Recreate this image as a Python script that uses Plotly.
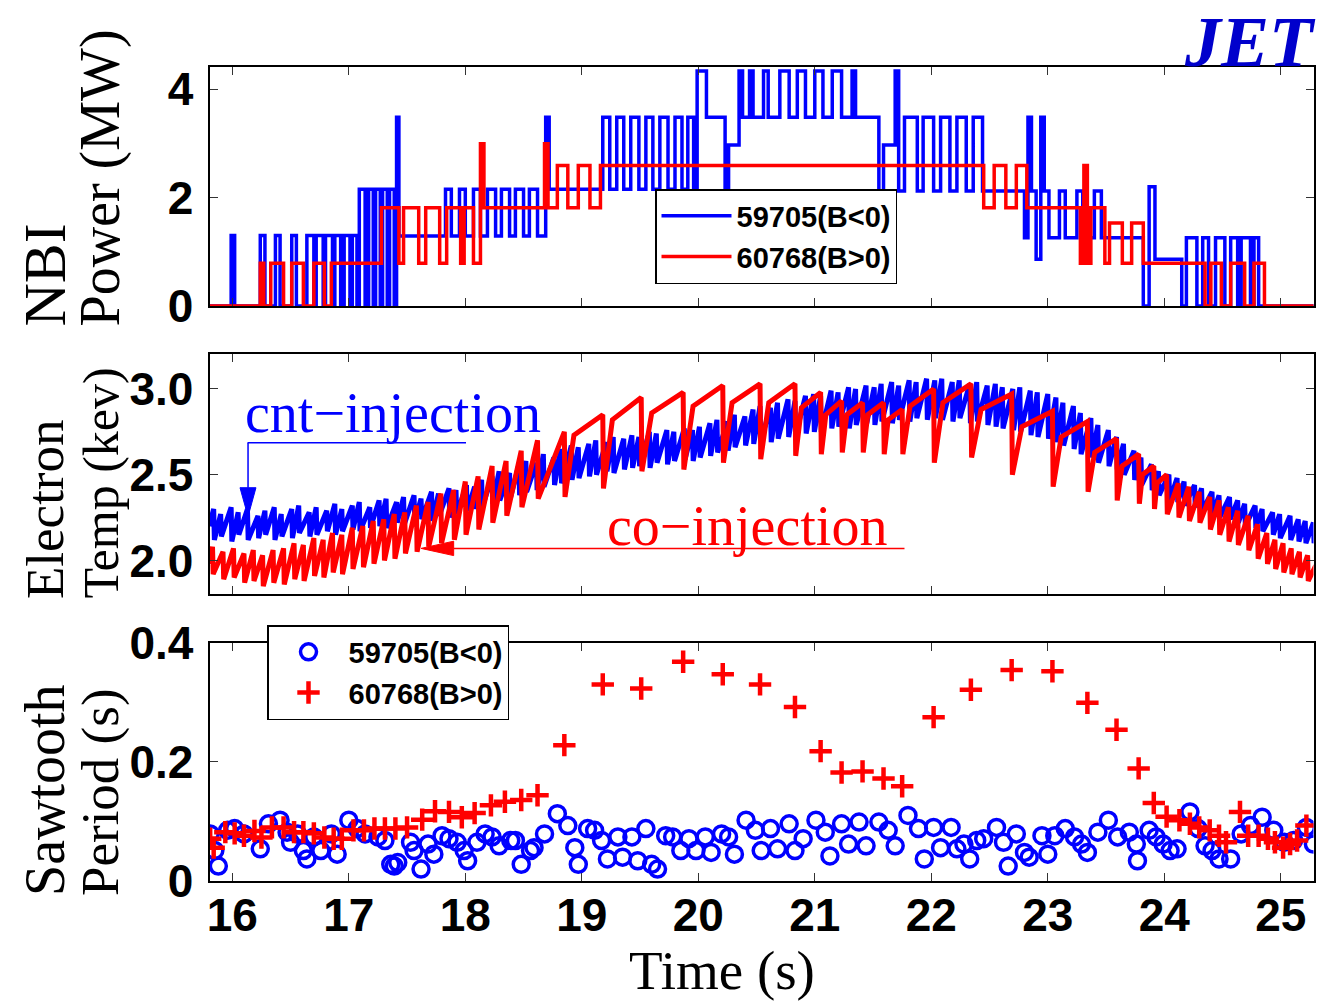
import plotly.graph_objects as go

# ---------------- DATA ----------------
x_ticks = [16, 17, 18, 19, 20, 21, 22, 23, 24, 25]

# NBI power (MW): change points of the step waveforms (time s, level MW)
nbi_blue_t = [15.80, 15.99, 16.02, 16.24, 16.28, 16.37, 16.41, 16.51, 16.55, 16.64,
              16.70, 16.72, 16.78, 16.80, 16.86, 16.88, 16.93, 16.96, 17.01, 17.03,
              17.07, 17.09, 17.14, 17.17, 17.21, 17.23, 17.27, 17.29, 17.33, 17.35,
              17.39, 17.41, 17.43, 17.83, 17.88, 17.95, 18.00, 18.07, 18.13, 18.19,
              18.26, 18.31, 18.38, 18.43, 18.50, 18.55, 18.62, 18.69, 18.72, 19.18,
              19.24, 19.30, 19.36, 19.42, 19.49, 19.55, 19.61, 19.67, 19.74, 19.80,
              19.86, 19.91, 19.96, 19.99, 20.07, 20.23, 20.26, 20.35, 20.38, 20.44,
              20.47, 20.56, 20.60, 20.70, 20.78, 20.85, 20.92, 21.00, 21.07, 21.15,
              21.23, 21.32, 21.35, 21.55, 21.59, 21.69, 21.72, 21.77, 21.88, 21.93,
              22.02, 22.08, 22.16, 22.22, 22.30, 22.36, 22.44, 22.80, 22.83, 22.86,
              22.90, 22.94, 22.97, 23.01, 23.10, 23.15, 23.25, 23.30, 23.40, 23.46,
              23.82, 23.87, 23.92, 24.15, 24.19, 24.28, 24.33, 24.38, 24.44, 24.52,
              24.57, 24.63, 24.66, 24.74, 24.77, 24.81, 25.30]
nbi_blue_p = [0, 1.30, 0, 1.30, 0, 1.30, 0, 1.30, 0, 1.30,
              0, 1.30, 0, 1.30, 0, 1.30, 0, 1.30, 0, 1.30,
              0, 2.15, 0, 2.15, 0, 2.15, 0, 2.15, 0, 2.15,
              0, 3.48, 1.29, 2.15, 1.29, 2.15, 1.29, 2.15, 1.29, 2.15,
              1.29, 2.15, 1.29, 2.15, 1.29, 2.15, 1.29, 3.48, 2.15, 3.48,
              2.15, 3.48, 2.15, 3.48, 2.15, 3.48, 2.15, 3.48, 2.15, 3.48,
              2.15, 3.48, 2.15, 4.33, 3.48, 2.15, 2.97, 4.33, 3.48, 4.33,
              3.48, 4.33, 3.48, 4.33, 3.48, 4.33, 3.48, 4.33, 3.48, 4.33,
              3.48, 4.33, 3.48, 2.12, 2.97, 4.33, 2.12, 3.48, 2.12, 3.48,
              2.12, 3.48, 2.12, 3.48, 2.12, 3.48, 2.12, 1.26, 3.48, 2.12,
              0.86, 3.48, 2.12, 1.26, 2.12, 1.26, 2.12, 1.26, 2.12, 1.26,
              0, 2.20, 0.86, 0, 1.26, 0, 1.26, 0, 1.26, 0,
              1.26, 0, 1.26, 0, 1.26, 0, 0]

nbi_red_t = [15.80, 16.24, 16.27, 16.33, 16.44, 16.51, 16.61, 16.70, 16.79, 16.85,
             17.28, 17.43, 17.47, 17.60, 17.66, 17.78, 17.84, 17.96, 17.99, 18.07,
             18.13, 18.16, 18.68, 18.71, 18.79, 18.88, 18.97, 19.07, 19.16, 22.45,
             22.54, 22.64, 22.73, 22.82, 23.28, 23.31, 23.34, 23.37, 23.49, 23.53,
             23.64, 23.72, 23.82, 24.35, 24.40, 24.49, 24.57, 24.69, 24.77, 24.86,
             25.30]
nbi_red_p = [0, 0.79, 0, 0.79, 0, 0.79, 0, 0.79, 0, 0.79,
             1.81, 0.79, 1.81, 0.79, 1.81, 0.79, 1.81, 0.79, 1.81, 0.79,
             2.99, 1.81, 2.99, 1.81, 2.59, 1.81, 2.59, 1.81, 2.59, 1.81,
             2.59, 1.81, 2.59, 1.81, 0.79, 2.59, 0.79, 1.81, 0.79, 1.53,
             0.79, 1.53, 0.79, 0, 0.79, 0, 0.79, 0, 0.79, 0,
             0]

# Electron temperature (keV): sawtooth crash times with pre-crash (peak) and post-crash (trough) values
te_blue_crash_t = [15.84, 15.90, 15.99, 16.05, 16.13, 16.22, 16.28, 16.36, 16.42, 16.51, 16.57, 16.66, 16.72, 16.81, 16.88, 16.94,
                   17.03, 17.09, 17.18, 17.26, 17.32, 17.41, 17.47, 17.56, 17.62, 17.71, 17.77, 17.86, 17.92,
                   18.01, 18.08, 18.14, 18.23, 18.29, 18.38, 18.46, 18.52, 18.61, 18.67, 18.76, 18.82, 18.91, 18.97,
                   19.06, 19.12, 19.21, 19.27, 19.36, 19.43, 19.49, 19.58, 19.64, 19.73, 19.79, 19.88, 19.95,
                   20.01, 20.10, 20.16, 20.25, 20.31, 20.40, 20.47, 20.53, 20.62, 20.68, 20.77, 20.83, 20.92, 20.99,
                   21.05, 21.14, 21.20, 21.29, 21.35, 21.44, 21.51, 21.57, 21.66, 21.72, 21.81, 21.87, 21.96,
                   22.03, 22.09, 22.18, 22.24, 22.33, 22.39, 22.48, 22.55, 22.61, 22.70, 22.76, 22.85, 22.91,
                   23.00, 23.07, 23.13, 23.22, 23.28, 23.37, 23.43, 23.52, 23.59, 23.65, 23.74, 23.80, 23.89, 23.95,
                   24.04, 24.11, 24.17, 24.26, 24.32, 24.41, 24.47, 24.56, 24.63, 24.69, 24.78, 24.84, 24.93, 24.99,
                   25.08, 25.15, 25.21, 25.28]
te_blue_peak = [2.30, 2.27, 2.31, 2.28, 2.30, 2.26, 2.29, 2.31, 2.27, 2.30, 2.32, 2.28, 2.31, 2.29, 2.33, 2.30,
                2.32, 2.34, 2.31, 2.35, 2.36, 2.34, 2.37, 2.38, 2.36, 2.40, 2.39, 2.42, 2.41,
                2.44, 2.43, 2.47, 2.49, 2.52, 2.51, 2.56, 2.58, 2.57, 2.62, 2.60, 2.65, 2.67, 2.66,
                2.68, 2.70, 2.69, 2.72, 2.71, 2.73, 2.72, 2.75, 2.74, 2.76, 2.75, 2.77, 2.76,
                2.78, 2.80, 2.82, 2.81, 2.85, 2.84, 2.88, 2.90, 2.89, 2.92, 2.94, 2.93, 2.96, 2.97,
                2.96, 2.99, 2.98, 3.01, 3.00, 3.02, 3.01, 3.03, 3.04, 3.02, 3.05, 3.04, 3.06,
                3.05, 3.06, 3.04, 3.05, 3.03, 3.04, 3.02, 3.03, 3.01, 3.00, 3.01, 2.99, 2.98,
                2.97, 2.95, 2.92, 2.90, 2.86, 2.83, 2.79, 2.76, 2.72, 2.68, 2.64, 2.60, 2.56, 2.52,
                2.50, 2.48, 2.46, 2.44, 2.42, 2.40, 2.38, 2.37, 2.35, 2.33, 2.32, 2.30, 2.28, 2.27,
                2.26, 2.24, 2.23, 2.22]
te_blue_trough = [2.12, 2.14, 2.11, 2.15, 2.12, 2.13, 2.15, 2.12, 2.14, 2.13, 2.16, 2.14, 2.15, 2.17, 2.15, 2.17,
                  2.18, 2.17, 2.19, 2.20, 2.19, 2.22, 2.21, 2.23, 2.24, 2.23, 2.26, 2.25, 2.27,
                  2.29, 2.30, 2.31, 2.33, 2.35, 2.36, 2.38, 2.40, 2.41, 2.43, 2.44, 2.45, 2.47, 2.48,
                  2.49, 2.50, 2.52, 2.51, 2.53, 2.54, 2.55, 2.54, 2.57, 2.56, 2.58, 2.59, 2.58,
                  2.60, 2.61, 2.63, 2.64, 2.66, 2.67, 2.68, 2.70, 2.69, 2.71, 2.72, 2.73, 2.74, 2.75,
                  2.75, 2.77, 2.78, 2.77, 2.79, 2.80, 2.79, 2.81, 2.80, 2.82, 2.81, 2.83, 2.82,
                  2.83, 2.82, 2.81, 2.83, 2.80, 2.81, 2.79, 2.78, 2.77, 2.76, 2.75, 2.73, 2.72,
                  2.71, 2.69, 2.67, 2.65, 2.62, 2.60, 2.57, 2.55, 2.53, 2.50, 2.47, 2.44, 2.41, 2.38,
                  2.35, 2.34, 2.32, 2.31, 2.29, 2.27, 2.25, 2.24, 2.22, 2.20, 2.19, 2.17, 2.15, 2.13,
                  2.12, 2.11, 2.10, 2.10]
te_blue_start, te_blue_end = 2.20, 2.20

te_red_crash_t = [15.83, 15.92, 16.01, 16.10, 16.18, 16.26, 16.35, 16.44, 16.53, 16.61,
                  16.70, 16.78, 16.86, 16.94, 17.03, 17.12, 17.21, 17.30, 17.39, 17.48,
                  17.58, 17.68, 17.79, 17.90, 18.00, 18.11, 18.23, 18.35, 18.48, 18.62,
                  18.85, 19.18, 19.51, 19.87, 20.21, 20.53, 20.83, 21.05, 21.23, 21.41,
                  21.59, 21.75, 22.02, 22.34, 22.69, 23.04, 23.34, 23.59, 23.78, 23.91,
                  24.02, 24.12, 24.21, 24.30, 24.39, 24.47, 24.55, 24.63, 24.72, 24.80,
                  24.88, 24.95, 25.02, 25.09, 25.16, 25.23]
te_red_peak = [2.08, 2.05, 2.07, 2.04, 2.06, 2.03, 2.06, 2.07, 2.10, 2.09,
               2.13, 2.12, 2.16, 2.15, 2.19, 2.20, 2.23, 2.24, 2.27, 2.28,
               2.32, 2.34, 2.39, 2.41, 2.46, 2.49, 2.55, 2.58, 2.64, 2.70,
               2.75, 2.85, 2.95, 2.98, 3.02, 3.03, 3.03, 2.98, 2.93, 2.92,
               2.92, 2.88, 3.00, 3.03, 2.97, 2.87, 2.81, 2.71, 2.62, 2.55,
               2.50, 2.45, 2.43, 2.40, 2.37, 2.35, 2.31, 2.29, 2.26, 2.21,
               2.16, 2.12, 2.10, 2.07, 2.05, 2.03]
te_red_trough = [1.92, 1.89, 1.90, 1.87, 1.88, 1.85, 1.87, 1.86, 1.89, 1.88,
                 1.91, 1.90, 1.93, 1.92, 1.95, 1.96, 1.98, 2.00, 2.01, 2.04,
                 2.05, 2.08, 2.10, 2.12, 2.15, 2.18, 2.22, 2.26, 2.31, 2.36,
                 2.37, 2.42, 2.52, 2.53, 2.57, 2.59, 2.61, 2.62, 2.63, 2.63,
                 2.62, 2.62, 2.57, 2.60, 2.50, 2.43, 2.40, 2.35, 2.33, 2.30,
                 2.27, 2.25, 2.23, 2.22, 2.18, 2.15, 2.11, 2.09, 2.06, 2.01,
                 1.98, 1.95, 1.93, 1.92, 1.90, 1.88]
# level reached shortly after each crash during the long co-injection sawteeth (None = plain ramp)
te_red_knee = [None] * 30 + [2.73, 2.82, 2.86, 2.90, 2.92, 2.92, 2.89, 2.85, 2.85, 2.85,
                             2.82, 2.90, 2.92, 2.88, 2.78, 2.72, 2.63, 2.55, 2.50, 2.45] + [None] * 16
te_red_start, te_red_end = 1.98, 1.97

# Sawtooth period (s) vs time
st_blue_t = [15.81, 15.85, 15.88, 15.96, 16.02, 16.10, 16.24, 16.31, 16.41, 16.47,
             16.50, 16.56, 16.61, 16.64, 16.70, 16.76, 16.85, 16.90, 17.00, 17.07,
             17.14, 17.25, 17.31, 17.36, 17.39, 17.42, 17.53, 17.56, 17.62, 17.68,
             17.73, 17.80, 17.86, 17.93, 17.99, 18.02, 18.10, 18.17, 18.23, 18.29,
             18.39, 18.43, 18.48, 18.56, 18.59, 18.68, 18.79, 18.88, 18.94, 18.97,
             19.05, 19.11, 19.17, 19.22, 19.31, 19.35, 19.43, 19.48, 19.55, 19.60,
             19.65, 19.72, 19.78, 19.85, 19.92, 19.98, 20.06, 20.11, 20.20, 20.26,
             20.31, 20.41, 20.49, 20.54, 20.62, 20.68, 20.78, 20.83, 20.90, 21.01,
             21.09, 21.13, 21.23, 21.29, 21.38, 21.44, 21.55, 21.63, 21.69, 21.80,
             21.89, 21.94, 22.02, 22.08, 22.17, 22.22, 22.28, 22.33, 22.39, 22.45,
             22.56, 22.62, 22.66, 22.73, 22.80, 22.84, 22.95, 23.00, 23.06, 23.15,
             23.23, 23.29, 23.34, 23.43, 23.52, 23.60, 23.70, 23.76, 23.77, 23.87,
             23.93, 23.99, 24.05, 24.11, 24.22, 24.29, 24.35, 24.41, 24.47, 24.57,
             24.66, 24.74, 24.84, 24.94, 25.03, 25.11, 25.22, 25.28]
st_blue_p = [0.079, 0.051, 0.025, 0.085, 0.088, 0.079, 0.054, 0.096, 0.102, 0.082,
             0.065, 0.079, 0.051, 0.037, 0.074, 0.051, 0.079, 0.045, 0.102, 0.088,
             0.079, 0.074, 0.068, 0.028, 0.025, 0.031, 0.065, 0.051, 0.020, 0.062,
             0.045, 0.076, 0.071, 0.065, 0.051, 0.034, 0.065, 0.079, 0.074, 0.059,
             0.068, 0.068, 0.028, 0.051, 0.056, 0.079, 0.113, 0.093, 0.056, 0.028,
             0.088, 0.085, 0.068, 0.037, 0.074, 0.040, 0.074, 0.034, 0.088, 0.028,
             0.020, 0.076, 0.074, 0.051, 0.071, 0.051, 0.074, 0.048, 0.079, 0.074,
             0.045, 0.102, 0.085, 0.051, 0.088, 0.054, 0.096, 0.051, 0.071, 0.102,
             0.082, 0.042, 0.096, 0.062, 0.099, 0.059, 0.099, 0.085, 0.059, 0.110,
             0.088, 0.037, 0.090, 0.056, 0.090, 0.054, 0.062, 0.037, 0.068, 0.071,
             0.090, 0.065, 0.025, 0.079, 0.048, 0.040, 0.076, 0.045, 0.076, 0.088,
             0.074, 0.062, 0.048, 0.082, 0.102, 0.074, 0.082, 0.062, 0.034, 0.085,
             0.074, 0.062, 0.051, 0.054, 0.116, 0.088, 0.059, 0.051, 0.037, 0.037,
             0.079, 0.093, 0.107, 0.085, 0.065, 0.068, 0.090, 0.062]
st_red_t = [15.81, 15.84, 15.94, 16.02, 16.10, 16.19, 16.25, 16.34, 16.44, 16.53,
            16.61, 16.70, 16.79, 16.87, 16.94, 17.04, 17.13, 17.22, 17.31, 17.40,
            17.50, 17.63, 17.74, 17.86, 17.97, 18.08, 18.22, 18.34, 18.48, 18.62,
            18.85, 19.18, 19.51, 19.87, 20.21, 20.53, 20.83, 21.05, 21.23, 21.41,
            21.59, 21.75, 22.02, 22.34, 22.69, 23.04, 23.34, 23.59, 23.78, 23.91,
            24.02, 24.13, 24.22, 24.30, 24.39, 24.47, 24.53, 24.65, 24.72, 24.81,
            24.89, 24.95, 25.02, 25.08, 25.14, 25.22]
st_red_p = [0.071, 0.056, 0.082, 0.080, 0.076, 0.084, 0.073, 0.090, 0.090, 0.082,
            0.082, 0.080, 0.073, 0.071, 0.071, 0.085, 0.085, 0.088, 0.088, 0.088,
            0.090, 0.103, 0.117, 0.116, 0.107, 0.114, 0.127, 0.133, 0.136, 0.144,
            0.228, 0.330, 0.323, 0.368, 0.347, 0.330, 0.292, 0.218, 0.182, 0.184,
            0.172, 0.159, 0.275, 0.321, 0.354, 0.352, 0.299, 0.254, 0.189, 0.131,
            0.108, 0.102, 0.096, 0.090, 0.085, 0.076, 0.065, 0.116, 0.076, 0.076,
            0.071, 0.065, 0.056, 0.062, 0.068, 0.093]

series_names = ['59705(B&lt;0)', '60768(B&gt;0)']

# ---------------- FIGURE ----------------
W, H = 1326, 1004
T0, T1 = 15.80, 25.30


def pxx(x):
    return x / W


def pxy(y):
    return 1 - y / H


def sawtooth_path(crash_t, peak, trough, start_v, end_v, knee=None):
    xs, ys = [T0], [start_v]
    for i, tc in enumerate(crash_t):
        xs += [tc, tc + 0.006]
        ys += [peak[i], trough[i]]
        if knee is not None and knee[i] is not None:
            nxt = crash_t[i + 1] if i + 1 < len(crash_t) else T1
            xs.append(tc + 0.25 * (nxt - tc))
            ys.append(knee[i])
    xs.append(T1)
    ys.append(end_v)
    return xs, ys


BLUE = '#0000ff'
RED = '#ff0000'

fig = go.Figure()

# top: NBI power
fig.add_trace(go.Scatter(x=nbi_blue_t, y=nbi_blue_p, mode='lines', name=series_names[0],
                         line=dict(color=BLUE, width=3.5, shape='hv'),
                         xaxis='x', yaxis='y', legend='legend'))
fig.add_trace(go.Scatter(x=nbi_red_t, y=nbi_red_p, mode='lines', name=series_names[1],
                         line=dict(color=RED, width=3.5, shape='hv'),
                         xaxis='x', yaxis='y', legend='legend'))

# middle: electron temperature
bx, by = sawtooth_path(te_blue_crash_t, te_blue_peak, te_blue_trough, te_blue_start, te_blue_end)
rx, ry = sawtooth_path(te_red_crash_t, te_red_peak, te_red_trough, te_red_start, te_red_end, te_red_knee)
fig.add_trace(go.Scatter(x=bx, y=by, mode='lines', line=dict(color=BLUE, width=5),
                         showlegend=False, xaxis='x2', yaxis='y2'))
fig.add_trace(go.Scatter(x=rx, y=ry, mode='lines', line=dict(color=RED, width=5),
                         showlegend=False, xaxis='x2', yaxis='y2'))

# bottom: sawtooth period
fig.add_trace(go.Scatter(x=st_blue_t, y=st_blue_p, mode='markers', name=series_names[0],
                         marker=dict(symbol='circle-open', size=16, color=BLUE,
                                     line=dict(color=BLUE, width=3.5)),
                         xaxis='x3', yaxis='y3', legend='legend2'))
fig.add_trace(go.Scatter(x=st_red_t, y=st_red_p, mode='markers', name=series_names[1],
                         marker=dict(symbol='cross-thin-open', size=16, color=RED,
                                     line=dict(color=RED, width=4.5)),
                         xaxis='x3', yaxis='y3', legend='legend2'))

tickfont = dict(family='Liberation Sans, Arial, sans-serif', size=46, color='black', weight='bold')
xdom = [pxx(209.6), pxx(1313.5)]
xcommon = dict(range=[15.805, 25.281], domain=xdom, showline=True, linecolor='black', linewidth=2,
               mirror='ticks', ticks='inside', ticklen=8, tickwidth=1, tickcolor='#333',
               tickvals=x_ticks, ticktext=[str(v) for v in x_ticks], showgrid=False,
               zeroline=False, automargin=False, tickfont=tickfont)
ycommon = dict(showline=True, linecolor='black', linewidth=2, mirror='ticks', ticks='inside',
               ticklen=8, tickwidth=1, tickcolor='#333', showgrid=False, zeroline=False,
               automargin=False, tickfont=tickfont, ticklabelstandoff=5)

legfont = dict(family='Liberation Sans, Arial, sans-serif', size=29, color='black', weight='bold')
fig.update_layout(
    width=W, height=H, margin=dict(l=0, r=0, t=0, b=0),
    paper_bgcolor='white', plot_bgcolor='white',
    xaxis=dict(xcommon, anchor='y', showticklabels=False),
    xaxis2=dict(xcommon, anchor='y2', showticklabels=False),
    xaxis3=dict(xcommon, anchor='y3', showticklabels=True, ticklabelstandoff=-7),
    yaxis=dict(ycommon, anchor='x', domain=[pxy(306), pxy(67.3)], range=[0, 4.4],
               tickvals=[0, 2, 4], ticktext=['0', '2', '4']),
    yaxis2=dict(ycommon, anchor='x2', domain=[pxy(594), pxy(354)], range=[1.804, 3.204],
                tickvals=[2.0, 2.5, 3.0], ticktext=['2.0', '2.5', '3.0']),
    yaxis3=dict(ycommon, anchor='x3', domain=[pxy(881), pxy(642.7)], range=[0, 0.4],
                tickvals=[0, 0.2, 0.4], ticktext=['0', '0.2', '0.4']),
    legend=dict(x=pxx(655), y=pxy(189), xanchor='left', yanchor='top', bgcolor='white',
                bordercolor='black', borderwidth=1.5, itemwidth=70, tracegroupgap=0,
                font=legfont),
    legend2=dict(x=pxx(267), y=pxy(625), xanchor='left', yanchor='top', bgcolor='white',
                 bordercolor='black', borderwidth=1.5, itemwidth=70, tracegroupgap=0,
                 font=legfont),
)

serif = 'Liberation Serif, Times New Roman, serif'
ann = []
# y axis labels (two lines each, rotated, bottom aligned)
for text, xc, yb, fs in [('NBI', 45, 329, 60), ('Power (MW)', 100, 329, 56),
                         ('Electron', 45, 601, 53), ('Temp (kev)', 100, 601, 50),
                         ('Sawtooth', 45, 898, 56), ('Period (s)', 100, 898, 53)]:
    ann.append(dict(text=text, x=pxx(xc), y=pxy(yb), xref='paper', yref='paper',
                    xanchor='center', yanchor='bottom', textangle=-90, showarrow=False,
                    font=dict(family=serif, size=fs, color='black')))
ann.append(dict(text='Time (s)', x=pxx(722), y=pxy(1003), xref='paper', yref='paper',
                xanchor='center', yanchor='bottom', showarrow=False,
                font=dict(family=serif, size=55, color='black')))
ann.append(dict(text='<b><i>JET</i></b>', x=pxx(1318), y=1.0, xref='paper', yref='paper',
                xanchor='right', yanchor='top', showarrow=False,
                font=dict(family=serif, size=72, color='#0000cc')))
ann.append(dict(text='cnt\u2212injection', x=pxx(243), y=pxy(413), xref='paper', yref='paper',
                xanchor='left', yanchor='middle', showarrow=False,
                font=dict(family=serif, size=56, color=BLUE)))
ann.append(dict(text='co\u2212injection', x=pxx(605), y=pxy(526), xref='paper', yref='paper',
                xanchor='left', yanchor='middle', showarrow=False,
                font=dict(family=serif, size=56, color=RED)))
fig.update_layout(annotations=ann)

shapes = [
    # cnt-injection pointer
    dict(type='line', xref='x2', yref='y2', x0=16.131, x1=18.006, y0=2.686, y1=2.686,
         line=dict(color=BLUE, width=1.5)),
    dict(type='line', xref='x2', yref='y2', x0=16.135, x1=16.135, y0=2.686, y1=2.424,
         line=dict(color=BLUE, width=1.5)),
    dict(type='path', xref='x2', yref='y2', path='M 16.066,2.424 L 16.203,2.424 L 16.135,2.256 Z',
         fillcolor=BLUE, line=dict(color=BLUE, width=1)),
    # co-injection pointer
    dict(type='line', xref='x2', yref='y2', x0=17.90, x1=21.77, y0=2.07, y1=2.07,
         line=dict(color=RED, width=1.5)),
    dict(type='path', xref='x2', yref='y2', path='M 17.90,2.112 L 17.90,2.028 L 17.62,2.07 Z',
         fillcolor=RED, line=dict(color=RED, width=1)),
]
fig.update_layout(shapes=shapes)

fig.write_html('out.html')
